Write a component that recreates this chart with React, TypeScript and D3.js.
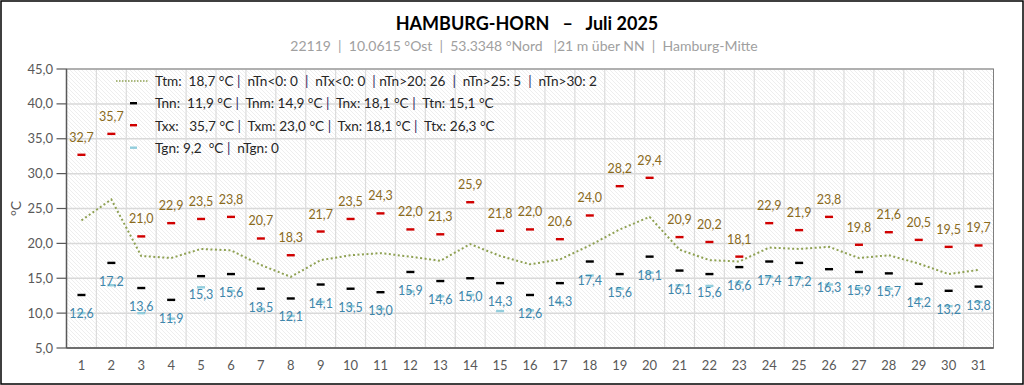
import React from 'react'
import * as d3 from 'd3'

// Tageswerte Juli 2025, Hamburg-Horn
const days = ['1', '2', '3', '4', '5', '6', '7', '8', '9', '10', '11', '12', '13', '14', '15', '16',
  '17', '18', '19', '20', '21', '22', '23', '24', '25', '26', '27', '28', '29', '30', '31']

const tx = [32.7, 35.7, 21.0, 22.9, 23.5, 23.8, 20.7, 18.3, 21.7, 23.5, 24.3, 22.0, 21.3, 25.9, 21.8, 22.0,
  20.6, 24.0, 28.2, 29.4, 20.9, 20.2, 18.1, 22.9, 21.9, 23.8, 19.8, 21.6, 20.5, 19.5, 19.7]

const tn = [12.6, 17.2, 13.6, 11.9, 15.3, 15.6, 13.5, 12.1, 14.1, 13.5, 13.0, 15.9, 14.6, 15.0, 14.3, 12.6,
  14.3, 17.4, 15.6, 18.1, 16.1, 15.6, 16.6, 17.4, 17.2, 16.3, 15.9, 15.7, 14.2, 13.2, 13.8]

const tm = [23.3, 26.3, 18.2, 17.9, 19.2, 19.0, 16.9, 15.2, 17.6, 18.3, 18.6, 18.1, 17.5, 19.9, 18.2, 17.0,
  17.7, 19.7, 22.0, 23.8, 19.1, 17.6, 17.4, 19.4, 19.2, 19.5, 17.9, 18.3, 17.1, 15.6, 16.2]

const tgn = [10.0, 14.0, 10.0, 9.2, 13.7, 13.2, 10.6, 9.6, 11.6, 11.0, 10.6, 13.1, 12.4, 12.6, 10.3, 10.4,
  11.5, 15.4, 13.5, 15.8, 14.0, 13.9, 14.4, 15.2, 15.0, 14.1, 13.6, 13.5, 12.0, 11.0, 11.6]

const yTicks = [5, 10, 15, 20, 25, 30, 35, 40, 45]

const title = 'HAMBURG-HORN   \u2013   Juli 2025'
const subtitle = '22119  |  10.0615 \u00b0Ost  |  53.3348 \u00b0Nord   |21 m \u00fcber NN  |  Hamburg-Mitte'

const legendRows = [
  ['Ttm:  18,7 \u00b0C ', '  nTn<0: 0  ', '  nTx<0: 0  ', ' nTn>20: 26  ', '  nTn>25: 5  ', '  nTn>30: 2'],
  ['Tnn:  11,9 \u00b0C ', '  Tnm: 14,9 \u00b0C ', '  Tnx: 18,1 \u00b0C ', '  Ttn: 15,1 \u00b0C'],
  ['Txx:   35,7 \u00b0C ', '  Txm: 23,0 \u00b0C ', '  Txn: 18,1 \u00b0C ', '  Ttx: 26,3 \u00b0C'],
  ['Tgn: 9,2  \u00b0C ', '  nTgn: 0'],
]

const FONT = "Lato, 'Open Sans', sans-serif"
const fmt = (v: number) => v.toFixed(1).replace('.', ',')

export default function App() {
  const width = 1024
  const height = 385
  const margin = { top: 69, right: 30.5, bottom: 37, left: 66.5 }

  const x = d3.scaleBand<string>().domain(days).range([margin.left, width - margin.right])
  const y = d3.scaleLinear().domain([5, 45]).range([height - margin.bottom, margin.top])
  const cx = (i: number) => (x(days[i]) as number) + x.bandwidth() / 2

  const line = d3
    .line<number>()
    .x((d, i) => cx(i))
    .y((d) => y(d))

  const plotW = width - margin.left - margin.right
  const plotH = height - margin.top - margin.bottom
  const dashW = 8

  return (
    <svg
      width={width}
      height={height}
      style={{ position: 'fixed', left: 0, top: 0, background: '#fff' }}
      fontFamily={FONT}
    >
      <defs>
        <pattern id="hatch" width="4" height="4" patternUnits="userSpaceOnUse">
          <path d="M-1,-1 L5,5 M-1,3 L1,5 M3,-1 L5,1" stroke="#e6e6e6" strokeWidth="0.7" />
        </pattern>
      </defs>
      <rect x={1} y={1} width={width - 2} height={height - 2} fill="#fff" stroke="#000" strokeWidth={1.5} />

      <text x={527} y={30} textAnchor="middle" fontSize={18} fontWeight="bold" fill="#000" style={{ whiteSpace: 'pre' }}>
        {title}
      </text>
      <text x={524} y={51} textAnchor="middle" fontSize={14} fill="#a0a0a0" style={{ whiteSpace: 'pre' }}>
        {subtitle}
      </text>

      {/* plot area */}
      <rect x={margin.left} y={margin.top} width={plotW} height={plotH} fill="url(#hatch)" />
      {yTicks.map((t) => (
        <line key={'h' + t} x1={margin.left} x2={width - margin.right} y1={y(t)} y2={y(t)} stroke="#d9d9d9" strokeWidth={1.5} />
      ))}
      {days.map((d) => (
        <line key={'v' + d} x1={x(d)} x2={x(d)} y1={margin.top} y2={height - margin.bottom} stroke="#dcdcdc" strokeWidth={1.2} />
      ))}
      <rect x={margin.left} y={margin.top} width={plotW} height={plotH} fill="none" stroke="#7f7f7f" strokeWidth={1} />
      <line x1={margin.left} x2={margin.left} y1={margin.top} y2={height - margin.bottom} stroke="#595959" strokeWidth={1.5} />
      <line x1={margin.left} x2={width - margin.right} y1={height - margin.bottom} y2={height - margin.bottom} stroke="#595959" strokeWidth={1.5} />

      {/* y axis */}
      {yTicks.map((t) => (
        <g key={'yt' + t}>
          <line x1={margin.left - 10} x2={margin.left} y1={y(t)} y2={y(t)} stroke="#595959" strokeWidth={1.2} />
          <text x={53} y={y(t) + 4.5} textAnchor="end" fontSize={13} fill="#595959">
            {fmt(t)}
          </text>
        </g>
      ))}
      <text transform={`translate(21,${(margin.top + height - margin.bottom) / 2}) rotate(-90)`} textAnchor="middle" fontSize={14} fill="#595959">
        °C
      </text>

      {/* x axis */}
      {days.map((d, i) => (
        <text key={'xl' + d} x={cx(i)} y={369.5} textAnchor="middle" fontSize={13} fill="#595959">
          {d}
        </text>
      ))}

      {/* Tagesmittel */}
      <path d={line(tm) || ''} fill="none" stroke="#8fa153" strokeWidth={2} strokeDasharray="2 2.5" />

      {/* Erdbodenminimum */}
      {tgn.map((v, i) => (
        <rect key={'g' + i} x={cx(i) - dashW / 2} y={y(v) - 1.2} width={dashW} height={2.4} fill="#92cddc" />
      ))}

      {/* Minimum */}
      {tn.map((v, i) => (
        <g key={'n' + i}>
          <rect x={cx(i) - dashW / 2} y={y(v) - 1.2} width={dashW} height={2.4} fill="#000" />
          <text x={cx(i)} y={y(v) + 23} textAnchor="middle" fontSize={12.5} fill="#3e86ab">
            {fmt(v)}
          </text>
        </g>
      ))}

      {/* Maximum */}
      {tx.map((v, i) => (
        <g key={'x' + i}>
          <rect x={cx(i) - dashW / 2} y={y(v) - 1.2} width={dashW} height={2.4} fill="#d00000" />
          <text x={cx(i)} y={y(v) - 13} textAnchor="middle" fontSize={12.5} fill="#8a6a1c">
            {fmt(v)}
          </text>
        </g>
      ))}

      {/* legend */}
      <g>
        <line x1={116} x2={149} y1={81} y2={81} stroke="#8fa153" strokeWidth={1.5} strokeDasharray="1.5 1.5" />
        <rect x={130} y={102} width={7} height={2.4} fill="#000" />
        <rect x={130} y={124} width={7} height={2.4} fill="#d00000" />
        <rect x={130} y={146.5} width={7} height={2.4} fill="#92cddc" />
        {legendRows.map((row, r) => (
          <text key={'lg' + r} x={155} y={86 + r * 22.3} fontSize={13.6} fill="#262626" style={{ whiteSpace: 'pre' }}>
            {row.map((s, k) => (
              <React.Fragment key={k}>
                {k > 0 && <tspan fill="#2e1f5e">|</tspan>}
                <tspan>{s}</tspan>
              </React.Fragment>
            ))}
          </text>
        ))}
      </g>
    </svg>
  )
}
